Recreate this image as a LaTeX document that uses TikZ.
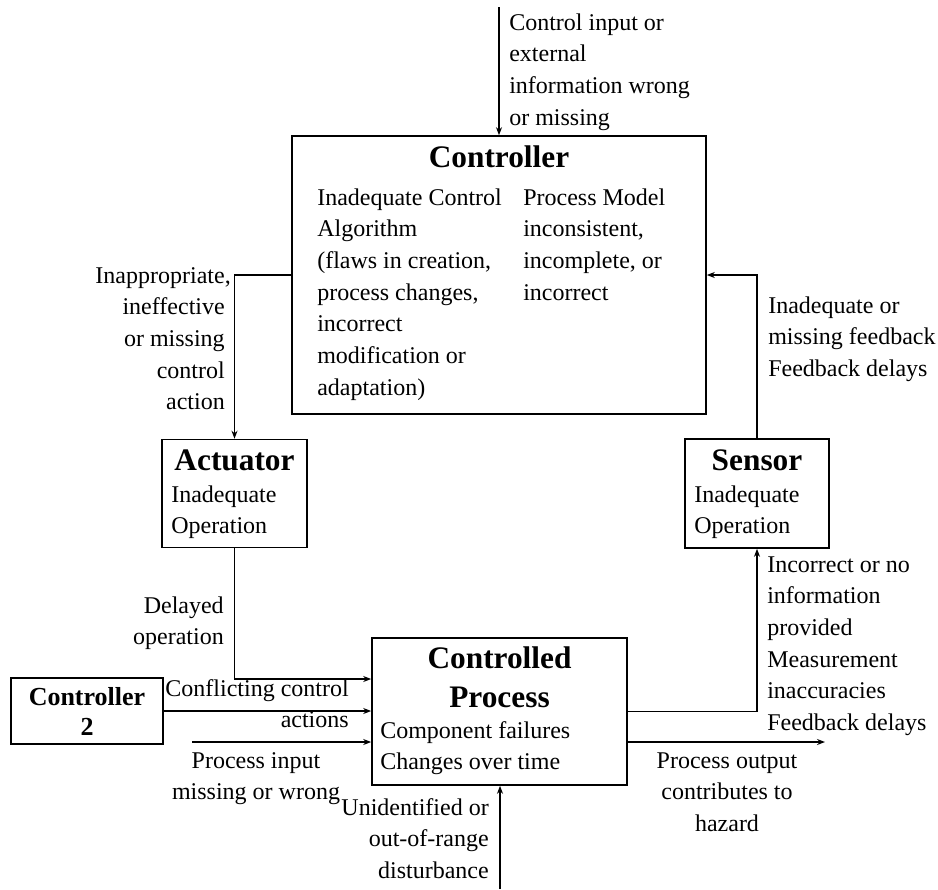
\documentclass[tikz,border=0pt]{standalone}
\usepackage{fontspec}
\setmainfont{Liberation Serif}
\usetikzlibrary{arrows.meta}
% text sizes: body text, box headings, small heading
\newcommand\bodytext{\fontsize{18}{23.75}\selectfont}
\newcommand\headtext{\fontsize{23.5}{29.25}\selectfont\bfseries}
\newcommand\smallhead{\fontsize{19.5}{22.5}\selectfont\bfseries}
% invisible props giving the first line of a block a fixed height
\newcommand\bodyprop{\rule{0pt}{16.625pt}}
\newcommand\headprop{\rule{0pt}{20.475pt}}
\newcommand\smallprop{\rule{0pt}{15.75pt}}
\begin{document}
\begin{tikzpicture}[x=0.75pt, y=-0.75pt,
  block/.style 2 args={draw, line width=1.2pt, inner sep=0pt,
    minimum width=#1*0.75pt, minimum height=#2*0.75pt},
  arr/.style={line width=1pt, -{Stealth[length=6pt, width=4.5pt]}},
  txt/.style={inner sep=0pt, font=\bodytext},
  head/.style={inner sep=0pt, font=\headtext, anchor=base},
  headml/.style={inner sep=0pt, font=\headtext, align=center, anchor=north},
  smallml/.style={inner sep=0pt, font=\smallhead, align=center, anchor=north}]
\useasboundingbox (0,0) rectangle (938,889);

% boxes
\node[block={414}{278}] (ctrl) at (499,275) {};
\node[block={145}{108}] (act)  at (234.5,493.5) {};
\node[block={144}{109}] (sen)  at (757,493.5) {};
\node[block={255}{147}] (proc) at (499.5,711.5) {};
\node[block={152}{66}]  (ctrltwo) at (87,711) {};

% box contents
\node[head] (ctrlT) at (499,167) {Controller};
\node[txt, anchor=north west, align=left] (ctrlA) at (317,182.8)
  {\bodyprop Inadequate Control\\Algorithm\\(flaws in creation,\\process changes,\\incorrect\\modification or\\adaptation)};
\node[txt, anchor=north west, align=left] (ctrlB) at (523,182.8)
  {\bodyprop Process Model\\inconsistent,\\incomplete, or\\incorrect};
\node[head] (actT) at (234.5,470) {Actuator};
\node[txt, anchor=north west, align=left] (actB) at (171,479.8) {\bodyprop Inadequate\\Operation};
\node[head] (senT) at (757,470) {Sensor};
\node[txt, anchor=north west, align=left] (senB) at (694,479.8) {\bodyprop Inadequate\\Operation};
\node[headml] (procT) at (499.5,640.7) {\headprop Controlled\\Process};
\node[txt, anchor=north west, align=left] (procB) at (380,715.8) {\bodyprop Component failures\\Changes over time};
\node[smallml] (ctrltwoT) at (87,684) {\smallprop Controller\\2};

% free ends of the outer connectors
\coordinate (topin) at (499,7);
\coordinate (procin) at (proc.west |- 0,679);
\coordinate (rawin) at (192,742);
\coordinate (rawout) at (825,742);
\coordinate (dist) at (500,889);

% connectors
\draw[arr] (topin) -- (ctrl.north);
\draw[arr] (ctrl.west) -| (act.north);
\draw[arr] (act.south) |- (procin);
\draw[arr] (ctrltwo.east) -- (ctrltwo.east -| proc.west);
\draw[arr] (rawin) -- (rawin -| proc.west);
\draw[arr] (proc.east) -| (sen.south);
\draw[arr] (rawout -| proc.east) -- (rawout);
\draw[arr] (dist) -- (dist |- proc.south);
\draw[arr] (sen.north) |- (ctrl.east);

% connector labels
\node[txt, anchor=north west, align=left] (lTop) at (509,7.8)
  {\bodyprop Control input or\\external\\information wrong\\or missing};
\node[txt, anchor=north east, align=right] (lAct) at (225,260.8)
  {\bodyprop Inappropriate\rlap{,}\\ineffective\\or missing\\control\\action};
\node[txt, anchor=north west, align=left] (lFb) at (768,290.8)
  {\bodyprop Inadequate or\\missing feedback\\Feedback delays};
\node[txt, anchor=north east, align=right] (lDel) at (224,590.8)
  {\bodyprop Delayed\\operation};
\node[txt, anchor=north east, align=right] (lConf) at (349,673.8)
  {\bodyprop Conflicting control\\actions};
\node[txt, anchor=north, align=center] (lIn) at (256,745.8)
  {\bodyprop Process input\\missing or wrong};
\node[txt, anchor=north east, align=right] (lDist) at (489,792.8)
  {\bodyprop Unidentified or\\out-of-range\\disturbance};
\node[txt, anchor=north west, align=left] (lSen) at (767,549.8)
  {\bodyprop Incorrect or no\\information\\provided\\Measurement\\inaccuracies\\Feedback delays};
\node[txt, anchor=north, align=center] (lOut) at (727,745.8)
  {\bodyprop Process output\\contributes to\\hazard};
\end{tikzpicture}
\end{document}
